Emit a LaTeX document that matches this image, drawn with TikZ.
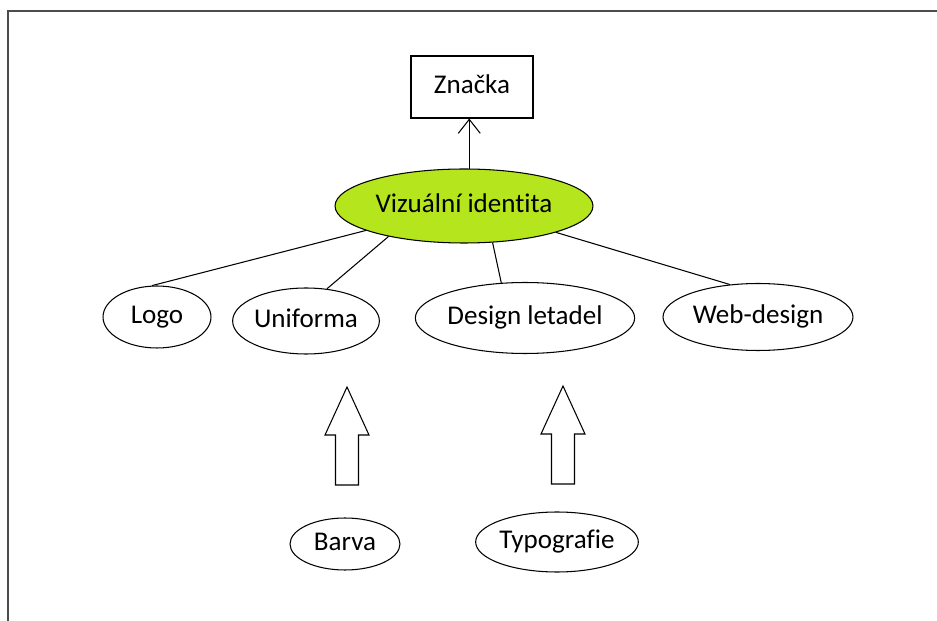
\documentclass[tikz,border=0pt]{standalone}
\usepackage{fontspec}
\setmainfont{Carlito}[Ligatures=NoCommon]
\usetikzlibrary{positioning, arrows.meta, shapes}
\definecolor{limegreen}{RGB}{181,230,29}

\begin{document}
\begin{tikzpicture}[x=0.02cm, y=-0.02cm, font=\fontsize{15.4}{18}\selectfont,
    oval/.style={draw, ellipse, inner sep=0pt, line width=0.6pt, text height=0.9em, text depth=0.15em},
    link/.style={line width=0.6pt}]
  \useasboundingbox (0,0) rectangle (937,621);
  % frame edges
  \draw[black!70, line width=1.3pt] (937,11) -- (8,11) -- (8,621);

  % top: brand and identity
  \node[draw, line width=0.6pt, minimum width=2.44cm, minimum height=1.24cm,
    text height=0.9em, text depth=0.15em] (znacka) at (472,87) {Značka};
  \node[oval, fill=limegreen, minimum width=5.16cm, minimum height=1.48cm] (vi) at (464,206) {Vizuální identita};
  \draw[link, -{Straight Barb[length=0.28cm, width=0.44cm]}] (vi.82) -- (vi.82 |- znacka.south);

  % second row
  \node[oval, minimum width=2.16cm, minimum height=1.24cm] (logo) at (157,317) {Logo};
  \node[oval, minimum width=2.88cm, minimum height=1.32cm] (uni) at (306,321) {Uniforma};
  \node[oval, minimum width=4.2cm, minimum height=1.42cm] (let) at (525,318) {Design letadel};
  \node[oval, minimum width=3.8cm, minimum height=1.34cm] (web) at (758,317) {Web-design};

  \draw[link] (vi.194.7) -- (logo.99);
  \draw[link] (vi.202.6) -- (uni.57.7);
  \draw[link] (vi.308) -- (let.124.8);
  \draw[link] (vi.344.8) -- (web.131);

  % bottom row with block arrows
  \node[oval, minimum width=2.2cm, minimum height=1.04cm] (barva) at (345,544) {Barva};
  \node[oval, minimum width=3.2cm, minimum height=1.2cm] (typo) at (557,542) {Typografie};

  \foreach \x/\t in {347/387, 563/386}
    \draw[link, line join=miter] (\x-11.5,\t+98) -- (\x-11.5,\t+48) -- (\x-22,\t+48) -- (\x,\t)
      -- (\x+22,\t+48) -- (\x+11.5,\t+48) -- (\x+11.5,\t+98) -- cycle;
\end{tikzpicture}
\end{document}
